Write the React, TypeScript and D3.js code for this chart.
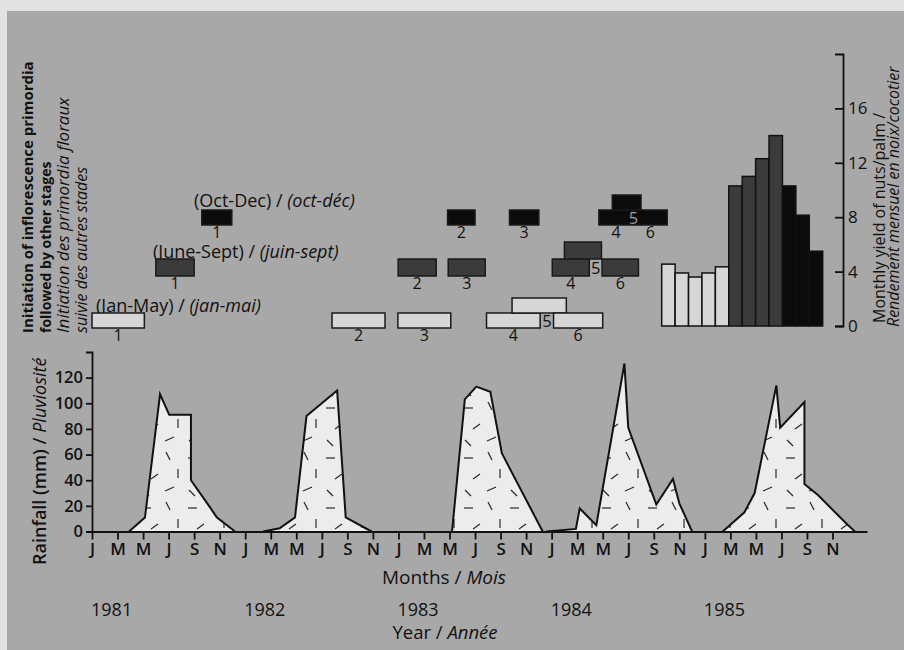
import * as d3 from "d3";
import { useRef, useEffect } from "react";

const width = 904;
const height = 650;
const font = "'Open Sans', 'Noto Sans', sans-serif";
const ink = "#111";

// rainfall peaks: [month index from Jan 1981, mm]
const rain1981 = [[2.9, 0], [4.15, 11], [5.33, 107], [6.05, 91], [7.75, 91], [7.75, 40], [9.3, 18], [9.77, 11], [11.2, 0]];
const rain1982 = [[13.4, 0], [14.7, 2.5], [15.9, 11], [16.8, 90], [19.2, 110], [19.87, 11], [21.9, 0]];
const rain1983 = [[28.2, 0], [29.2, 103], [30.1, 113], [31.2, 109], [32.1, 61], [35.3, 0]];
const rain1984 = [[35.6, 0], [37.9, 2], [38.2, 18], [39.5, 5], [41.7, 131], [42.0, 81], [44.2, 21], [45.5, 41], [46.0, 22], [47.0, 0]];
const rain1985 = [[49.4, 0], [51.1, 15], [51.9, 30], [53.6, 114], [53.9, 81], [55.8, 101], [55.8, 37], [56.9, 28], [58.3, 14], [59.1, 6], [59.75, 0]];

const monthLetters = ["J", "M", "M", "J", "S", "N"];
const years = ["1981", "1982", "1983", "1984", "1985"];
const rainTicks = [0, 20, 40, 60, 80, 100, 120];

// initiation periods per cohort (months from Jan 1981)
const janMayBlocks = [
  { cohort: "1", from: 0, to: 4.1 },
  { cohort: "2", from: 18.8, to: 22.95 },
  { cohort: "3", from: 23.96, to: 28.1 },
  { cohort: "4", from: 30.9, to: 35.1 },
  { cohort: "5", from: 32.9, to: 37.15, raised: true },
  { cohort: "6", from: 36.15, to: 40.0 },
];
const juneSeptBlocks = [
  { cohort: "1", from: 5.0, to: 8.0 },
  { cohort: "2", from: 23.98, to: 26.96 },
  { cohort: "3", from: 27.9, to: 30.8 },
  { cohort: "4", from: 36.05, to: 38.95 },
  { cohort: "5", from: 37.0, to: 39.9, raised: true },
  { cohort: "6", from: 39.95, to: 42.8 },
];
const octDecBlocks = [
  { cohort: "1", from: 8.6, to: 10.95 },
  { cohort: "2", from: 27.85, to: 30.0 },
  { cohort: "3", from: 32.7, to: 35.0 },
  { cohort: "4", from: 39.7, to: 42.4 },
  { cohort: "5", from: 40.75, to: 43.0, raised: true },
  { cohort: "6", from: 42.4, to: 45.05 },
];

// monthly yield of nuts/palm
const yieldValues = [4.55, 3.9, 3.6, 3.9, 4.35, 10.3, 11.0, 12.3, 14.0, 10.3, 8.15, 5.5];
const yieldStage = ["janMay", "janMay", "janMay", "janMay", "janMay", "juneSept", "juneSept", "juneSept", "juneSept", "octDec", "octDec", "octDec"];
const yieldTicks = [0, 4, 8, 12, 16];

const stageFill = { janMay: "#d6d6d6", juneSept: "#3b3b3b", octDec: "#0b0b0b" };

const x = d3.scaleLinear().domain([0, 60.7]).range([92, 867]);
const yRain = d3.scaleLinear().domain([0, 140]).range([531.5, 352]);
const yYield = d3.scaleLinear().domain([0, 20]).range([326, 54]);
const xYield = d3.scaleBand().domain(d3.range(yieldValues.length)).range([661.7, 822.7]);

const rows = [
  { key: "janMay", blocks: janMayBlocks, bottom: 328, h: 15, title: "(Jan-May) / ", titleIt: "(jan-mai)", tx: 96, ty: 312, five: ink },
  { key: "juneSept", blocks: juneSeptBlocks, bottom: 276, h: 17, title: "(June-Sept) / ", titleIt: "(juin-sept)", tx: 153, ty: 257.5, five: ink },
  { key: "octDec", blocks: octDecBlocks, bottom: 225, h: 15, title: "(Oct-Dec) / ", titleIt: "(oct-déc)", tx: 194, ty: 207, five: "#9a9a9a" },
];

const area = d3.area().x((d) => x(d[0])).y0(yRain(0)).y1((d) => yRain(d[1]));
const line = d3.line().x((d) => x(d[0])).y((d) => yRain(d[1]));

const styleAxis = (g) => {
  g.attr("font-family", font).attr("font-size", 17);
  g.selectAll("path, line").attr("stroke", ink).attr("stroke-width", 1.8);
  g.selectAll("text").attr("fill", ink);
};

export default function App() {
  const rainAxisRef = useRef(null);
  const monthAxisRef = useRef(null);
  const yieldAxisRef = useRef(null);

  useEffect(() => {
    document.body.style.margin = "0";
    const g = d3.select(rainAxisRef.current);
    g.call(d3.axisLeft(yRain).tickValues(rainTicks).tickSizeInner(6).tickSizeOuter(6).tickPadding(3));
    styleAxis(g);
    g.selectAll("text").attr("font-weight", 600).attr("font-size", 16.5);

    const m = d3.select(monthAxisRef.current);
    m.call(
      d3.axisBottom(x)
        .tickValues(d3.range(0, 59, 2))
        .tickFormat((d, i) => monthLetters[i % 6])
        .tickSizeInner(8)
        .tickSizeOuter(0)
        .tickPadding(3)
    );
    styleAxis(m);
    m.selectAll("text").attr("font-weight", 600);

    const r = d3.select(yieldAxisRef.current);
    r.call(d3.axisRight(yYield).tickValues(yieldTicks).tickSizeInner(-8).tickSizeOuter(-8).tickPadding(5));
    styleAxis(r);
  }, []);

  const rainSeries = [rain1981, rain1982, rain1983, rain1984, rain1985];

  return (
    <svg width={width} height={height} style={{ position: "absolute", left: 0, top: 0 }} fontFamily={font}>
      <defs>
        <pattern id="dashes" patternUnits="userSpaceOnUse" width="46" height="50">
          <rect width="46" height="50" fill="#ececec" />
          <g stroke="#2a2a2a" strokeWidth="1.2">
            <line x1="4" y1="8" x2="13" y2="8" />
            <line x1="28" y1="2" x2="32" y2="10" />
            <line x1="40" y1="19" x2="40" y2="28" />
            <line x1="13" y1="29" x2="20" y2="24" />
            <line x1="5" y1="40" x2="11" y2="46" />
            <line x1="27" y1="41" x2="36" y2="37" />
          </g>
        </pattern>
      </defs>

      <rect width={width} height={height} fill="#e2e2e2" />
      <rect x={7} y={11} width={width - 7} height={height - 11} fill="#a8a8a8" />

      {/* left titles */}
      <g fill={ink}>
        <text transform="translate(33,333) rotate(-90)" fontWeight={700} fontSize={15}>Initiation of inflorescence primordia</text>
        <text transform="translate(51,333) rotate(-90)" fontWeight={700} fontSize={14}>followed by other stages</text>
        <text transform="translate(69,333) rotate(-90)" fontStyle="italic" fontSize={17}>Initiation des primordia floraux</text>
        <text transform="translate(87,333) rotate(-90)" fontStyle="italic" fontSize={16}>suivie des autres stades</text>
      </g>

      {/* initiation blocks */}
      {rows.map((row) => {
        const lower = row.blocks.filter((b) => !b.raised);
        const b4 = row.blocks.find((b) => b.cohort === "4");
        const b6 = row.blocks.find((b) => b.cohort === "6");
        return (
          <g key={row.key}>
            <text x={row.tx} y={row.ty} fontSize={18} fill={ink}>
              {row.title}
              <tspan fontStyle="italic">{row.titleIt}</tspan>
            </text>
            {row.blocks.map((b) => (
              <rect
                key={b.cohort}
                x={x(b.from)}
                y={b.raised ? row.bottom - 2 * row.h : row.bottom - row.h}
                width={x(b.to) - x(b.from)}
                height={row.h}
                fill={stageFill[row.key]}
                stroke="#1a1a1a"
                strokeWidth={1.5}
              />
            ))}
            {lower.map((b) => (
              <text key={b.cohort} x={x((b.from + b.to) / 2)} y={row.bottom + 13} fontSize={16} fill={ink} textAnchor="middle">
                {b.cohort}
              </text>
            ))}
            <text x={x((b4.to + b6.from) / 2)} y={row.bottom - row.h / 2 + 6} fontSize={16.5} fill={row.five} textAnchor="middle">
              5
            </text>
          </g>
        );
      })}

      {/* yield bars */}
      {yieldValues.map((v, i) => (
        <rect
          key={i}
          x={xYield(i)}
          y={yYield(v)}
          width={xYield.bandwidth()}
          height={yYield(0) - yYield(v)}
          fill={stageFill[yieldStage[i]]}
          stroke={ink}
          strokeWidth={1.5}
        />
      ))}
      <g ref={yieldAxisRef} transform="translate(843,0)" />
      <g fill={ink}>
        <text transform="translate(885,323) rotate(-90)" fontSize={16}>Monthly yield of nuts/palm /</text>
        <text transform="translate(899,327) rotate(-90)" fontStyle="italic" fontSize={16}>Rendement  mensuel en noix/cocotier</text>
      </g>

      {/* rainfall */}
      {rainSeries.map((s, i) => (
        <g key={i}>
          <path d={area(s)} fill="url(#dashes)" />
          <path d={line(s)} fill="none" stroke={ink} strokeWidth={2} strokeLinejoin="miter" />
        </g>
      ))}
      <g ref={rainAxisRef} transform="translate(92,0)" />
      <g ref={monthAxisRef} transform={`translate(0,${yRain(0)})`} />
      <text transform="translate(46,565) rotate(-90)" fontSize={18} fill={ink}>
        <tspan fontWeight={600}>Rainfall (mm) / </tspan>
        <tspan fontStyle="italic">Pluviosité</tspan>
      </text>

      <text x={444} y={584} fontSize={19} fill={ink} textAnchor="middle">
        Months / <tspan fontStyle="italic">Mois</tspan>
      </text>
      {years.map((yr, i) => (
        <text key={yr} x={x(i * 12) - 1} y={616} fontSize={18} fill={ink}>
          {yr}
        </text>
      ))}
      <text x={445} y={639} fontSize={18.5} fill={ink} textAnchor="middle">
        Year / <tspan fontStyle="italic">Année</tspan>
      </text>
    </svg>
  );
}
